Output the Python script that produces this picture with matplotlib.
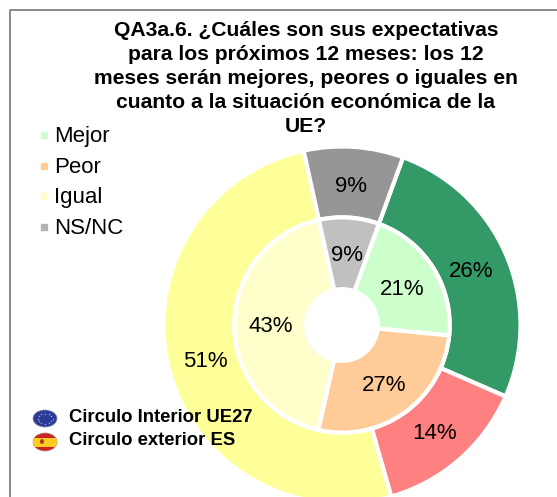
import numpy as np
import matplotlib
matplotlib.use('Agg')
import matplotlib.pyplot as plt
from matplotlib.patches import Rectangle, Ellipse

plt.rcParams['font.family'] = ['Liberation Sans', 'DejaVu Sans']

# values, clockwise from the first slice
categories = ['Mejor', 'Peor', 'Igual', 'NS/NC']
inner_values = [21, 27, 43, 9]
outer_values = [26, 14, 51, 9]
inner_colors = ['#CCFFCC', '#FFCC99', '#FFFFCC', '#C0C0C0']
outer_colors = ['#339966', '#FF8080', '#FFFF99', '#969696']
legend_colors = ['#CCFFCC', '#FFCC99', '#FFFFCC', '#B2B2B2']
title_lines = ['QA3a.6. ¿Cuáles son sus expectativas',
               'para los próximos 12 meses: los 12',
               'meses serán mejores, peores o iguales en',
               'cuanto a la situación económica de la',
               'UE?']
note_labels = ['Circulo Interior UE27', 'Circulo exterior ES']

W, H = 557, 497
fig = plt.figure(figsize=(W / 100, H / 100), dpi=100)

# donut in its own axes so it can spill over the bottom edge
cx, cy, R = 342, 325, 178.5
start = 70
pie_ax = fig.add_axes([(cx - R) / W, 1 - (cy + R) / H, 2 * R / W, 2 * R / H])
pie_ax.pie(outer_values, radius=1.0, startangle=start, counterclock=False, colors=outer_colors,
           wedgeprops=dict(width=0.397, edgecolor='white', linewidth=3))
pie_ax.pie(inner_values, radius=0.603, startangle=start, counterclock=False, colors=inner_colors,
           wedgeprops=dict(width=0.402, edgecolor='white', linewidth=3))
pie_ax.set_xlim(-1, 1)
pie_ax.set_ylim(-1, 1)
pie_ax.axis('off')

for values, r in [(inner_values, 0.40), (outer_values, 0.79)]:
    a = float(start)
    for v in values:
        mid = np.radians(a - v * 3.6 / 2)
        pie_ax.text(r * np.cos(mid), r * np.sin(mid) - 0.012, f'{v}%', ha='center', va='center',
                    fontsize=16, color='black')
        a -= v * 3.6

# overlay in pixel coordinates for frame, title, legend, notes
ax = fig.add_axes([0, 0, 1, 1])
ax.set_xlim(0, W)
ax.set_ylim(H, 0)
ax.axis('off')
ax.set_zorder(5)

# frame of the chart, only left and top show
ax.plot([10, 10, W], [H, 10, 10], color='#808080', lw=1.3)

for i, line in enumerate(title_lines):
    ax.text(306, 30.5 + i * 24.1, line, ha='center', va='center', fontsize=15.2,
            fontweight='bold')

for i, (c, lab) in enumerate(zip(legend_colors, categories)):
    y = 135 + i * 30.6
    ax.add_patch(Rectangle((41, y - 3), 6, 6, color=c))
    ax.text(54, y + 1.5, lab, ha='left', va='center', fontsize=16)

# EU flag marker
eu = Ellipse((45, 418.5), 24, 17, facecolor='#2A3A9A', edgecolor='#8888AA', lw=0.5)
ax.add_patch(eu)
ang = np.linspace(0, 2 * np.pi, 12, endpoint=False)
ax.scatter(45 + 7.5 * np.cos(ang), 418.5 + 5 * np.sin(ang), s=1.2, color='#AAAA66', linewidths=0)

# Spanish flag marker
es = Ellipse((45, 442), 24, 18, facecolor='#CC2222', edgecolor='#AA8888', lw=0.5)
ax.add_patch(es)
band = Rectangle((32, 437.5), 26, 9, facecolor='#FFCC22', edgecolor='none')
ax.add_patch(band)
band.set_clip_path(es)
ax.add_patch(Ellipse((42, 441.5), 4, 5, facecolor='#BB3322', edgecolor='none'))

for i, lab in enumerate(note_labels):
    ax.text(69, 417.5 + i * 23, lab, ha='left', va='center', fontsize=13.3, fontweight='bold')

fig.savefig('out.png', dpi=100)
